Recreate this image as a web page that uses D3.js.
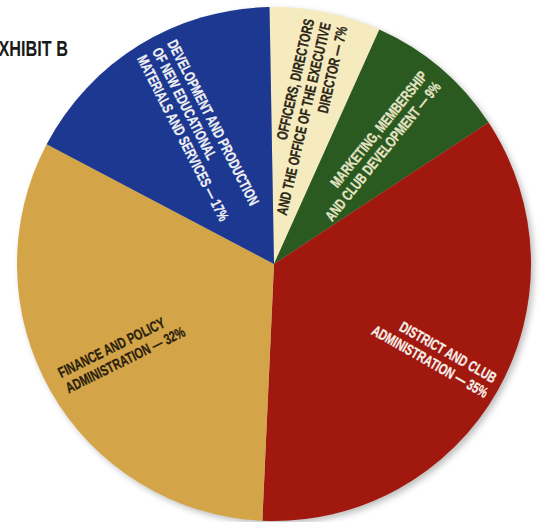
<!DOCTYPE html>
<html>
<head>
<meta charset="utf-8">
<script src="https://cdn.jsdelivr.net/npm/d3@7"></script>
<style>
  body { margin: 0; background: #fff; }
  text { font-family: "Liberation Sans", Arial, sans-serif; font-weight: bold; }
</style>
</head>
<body>
<div id="chart"></div>
<script>
// Exhibit B: share of spending by area (clockwise from the top)

// Data
var categories = ["Officers", "Marketing", "District", "Finance", "Development"];
var shares = [7, 9, 35, 32, 17];
var labelLines = [
  ["OFFICERS, DIRECTORS", "AND THE OFFICE OF THE EXECUTIVE", "DIRECTOR \u2014 7%"],
  ["MARKETING, MEMBERSHIP", "AND CLUB DEVELOPMENT \u2014 9%"],
  ["DISTRICT AND CLUB", "ADMINISTRATION \u2014 35%"],
  ["FINANCE AND POLICY", "ADMINISTRATION \u2014 32%"],
  ["DEVELOPMENT AND PRODUCTION", "OF NEW EDUCATIONAL", "MATERIALS AND SERVICES \u2014 17%"]
];
var title = "EXHIBIT B";

// Styles
var sliceColors = ["#f5ebbf", "#2b5a21", "#a1180f", "#d4a548", "#1c3890"];
var textColors = ["#2b2517", "#e6e4c6", "#f6efe8", "#2a1f0e", "#f1f1f4"];
// small hand tweaks so the labels sit like the print
var angleShift = [0.5, -0.2, -0.2, 0.8, 3];
var rotShift = [1.4, -1.4, 0, 3.5, 4.6];
var radiusFrac = [0.96, 0.945, 0.97, 0.94, 0.955];

var svgWidth = 542;
var svgHeight = 522;
var cx = 274, cy = 264, radius = 257;

var svg = d3.select("#chart")
  .append("svg")
  .attr("width", svgWidth)
  .attr("height", svgHeight);

var defs = svg.append("defs");
defs.append("filter")
  .attr("id", "shadow")
  .attr("x", "-10%").attr("y", "-10%")
  .attr("width", "120%").attr("height", "120%")
  .append("feGaussianBlur")
  .attr("stdDeviation", 3);

var g = svg.append("g")
  .attr("transform", `translate(${cx}, ${cy})`);

// soft shadow under the disc
g.append("circle")
  .attr("cx", 3)
  .attr("cy", 3)
  .attr("r", radius)
  .attr("fill", "#8a8a8a")
  .attr("opacity", 0.55)
  .attr("filter", "url(#shadow)");

var offset = -1 * Math.PI / 180;

var pie = d3.pie()
  .sort(null)
  .value(d => d)
  .startAngle(offset)
  .endAngle(2 * Math.PI + offset);

var arcs = pie(shares);

var arc = d3.arc()
  .innerRadius(0)
  .outerRadius(radius);

g.selectAll("path.slice")
  .data(arcs)
  .enter()
  .append("path")
  .attr("class", "slice")
  .attr("d", arc)
  .attr("fill", (d, i) => sliceColors[i]);

// Labels along the radius of each slice (condensed by squeezing x)
var fontSize = 15;
var lineHeight = 17;
var squeeze = 0.72;

arcs.forEach(function(d, i) {
  var mid = (d.startAngle + d.endAngle) / 2 * 180 / Math.PI;
  var leftSide = mid > 180;
  var a = (mid + angleShift[i]) * Math.PI / 180;
  var p = d3.pointRadial(a, radius * radiusFrac[i]);
  var rot = mid - 90 + (leftSide ? -180 : 0) + rotShift[i];

  var lg = g.append("g")
    .attr("transform", `translate(${p[0]}, ${p[1]}) rotate(${rot}) scale(${squeeze}, 1)`);

  var lines = labelLines[i];
  lg.selectAll("text")
    .data(lines)
    .enter()
    .append("text")
    .attr("x", 0)
    .attr("y", (t, j) => (j - (lines.length - 1) / 2) * lineHeight)
    .attr("dy", "0.35em")
    .attr("text-anchor", leftSide ? "start" : "end")
    .attr("font-size", fontSize)
    .attr("fill", textColors[i])
    .attr("stroke", textColors[i])
    .attr("stroke-width", 0.3)
    .text(t => t);
});

// Title, cut by the left edge like the scan
svg.append("text")
  .attr("transform", "translate(68, 56) scale(0.74, 1)")
  .attr("text-anchor", "end")
  .attr("font-size", 22)
  .attr("fill", "#1a1a1a")
  .text(title);
</script>
</body>
</html>
